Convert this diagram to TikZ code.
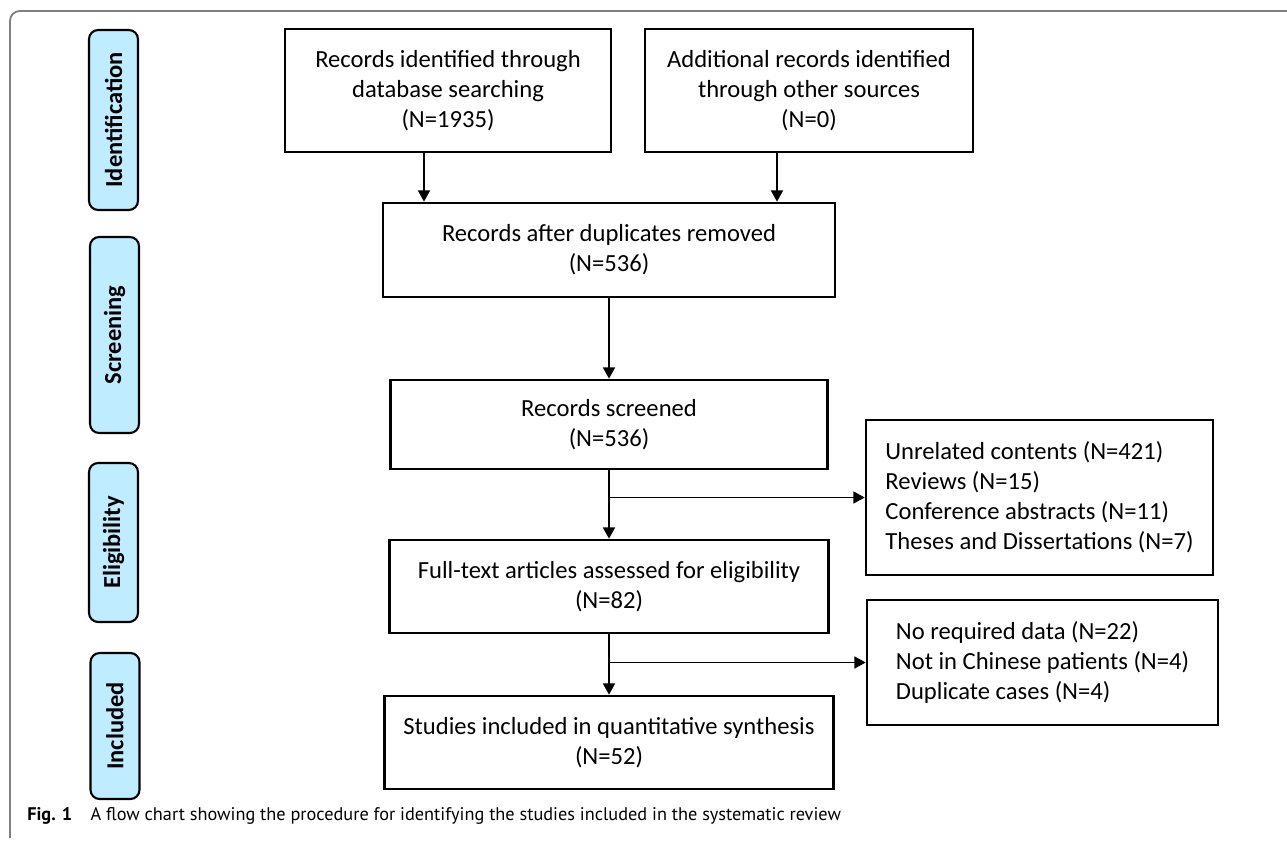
\documentclass[tikz,border=0pt]{standalone}
\usepackage{fontspec}
\setmainfont{Carlito}
\newfontfamily\capfont{PT Sans}
\usetikzlibrary{arrows.meta, calc, positioning}
\definecolor{lb}{RGB}{191, 236, 255}
\definecolor{fr}{HTML}{808080}
\def\px{0.025cm}

\begin{document}
\begin{tikzpicture}[x=0.025cm, y=-0.025cm,
	box/.style={draw, line width=1.9pt, inner sep=0pt, align=center, font=\fontsize{17.5}{21.3}\selectfont},
	side/.style={draw, line width=1.9pt, inner xsep=17*\px, inner ysep=0pt, align=left, font=\fontsize{17.5}{21.3}\selectfont},
	stage/.style={draw, fill=lb, line width=1.5pt, rounded corners=6.5pt, rotate=90, inner sep=0pt, minimum height=49*\px, font=\fontsize{17.4}{20}\selectfont\bfseries},
	arr/.style={line width=1.3pt, -{Triangle[width=8.5pt, length=8pt]}}]
	\useasboundingbox (0, 0) rectangle (1287, 841);
	
	\draw[fr, line width=1.3pt, rounded corners=7pt] (10, 838) -- (10, 11) -- (1287, 11);
	
	% stages
	\node[stage, minimum width=180*\px] (ident) at (113.5, 120) {Identification};
	\node[stage, minimum width=196*\px] (scr) at (114.5, 335) {Screening};
	\node[stage, minimum width=159*\px] (elig) at (113.5, 542.5) {Eligibility};
	\node[stage, minimum width=146*\px] (inc) at (115, 726) {Included};
	
	% main column
	\node[box, minimum width=326*\px, minimum height=123*\px] (search) at (448, 90.5) {Records identified through\\database searching\\(N=1935)};
	\node[box, minimum width=328*\px, minimum height=123*\px] (other) at (809, 90.5) {Additional records identified\\through other sources\\(N=0)};
	\node[box, minimum width=452*\px, minimum height=94*\px] (dedup) at (609, 250) {Records after duplicates removed\\(N=536)};
	\node[box, minimum width=437*\px, minimum height=89*\px] (screen) at (609, 424.5) {Records screened\\(N=536)};
	\node[box, minimum width=439*\px, minimum height=93*\px] (full) at (609, 586.5) {Full-text articles assessed for eligibility\\(N=82)};
	\node[box, minimum width=449*\px, minimum height=93*\px] (incl) at (609, 742.5) {Studies included in quantitative synthesis\\(N=52)};
	
	% excluded
	\node[side, minimum width=347*\px, minimum height=155*\px] (excl1) at (1039.5, 497.5) {Unrelated contents (N=421)\\Reviews (N=15)\\Conference abstracts (N=11)\\Theses and Dissertations (N=7)};
	\node[side, minimum width=351*\px, minimum height=125*\px] (excl2) at (1042.5, 662.5) {No required data (N=22)\\Not in Chinese patients (N=4)\\Duplicate cases (N=4)};
	
	\draw[arr] ([xshift=-0.6cm]search.south) -- ([xshift=-0.6cm]search.south |- dedup.north);
	\draw[arr] ([xshift=-0.8cm]other.south) -- ([xshift=-0.8cm]other.south |- dedup.north);
	\draw[arr] (dedup) -- (screen);
	\draw[arr] (screen) -- (full);
	\draw[arr] (screen.south |- excl1.west) -- (excl1.west);
	\draw[arr] (full) -- (incl);
	\draw[arr] (full.south |- excl2.west) -- (excl2.west);
	
	\node[anchor=base west, inner sep=0pt, font=\capfont\fontsize{13}{15}\selectfont] (cap) at (27, 820) {\textbf{Fig. 1}\quad A flow chart showing the procedure for identifying the studies included in the systematic review};
	
\end{tikzpicture}
\end{document}
